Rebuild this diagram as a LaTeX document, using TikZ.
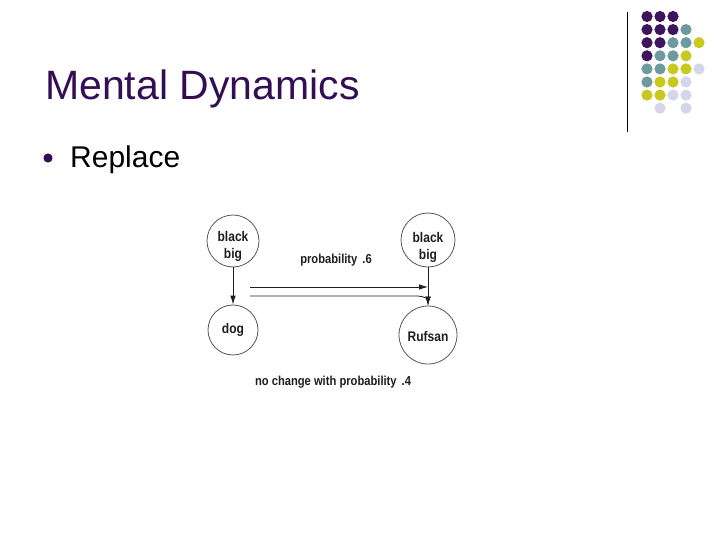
\documentclass[tikz,border=0pt]{standalone}
\usepackage{fontspec}
\setmainfont{Liberation Sans}
\newfontfamily\narrowsans[FakeStretch=0.86]{Liberation Sans}
\usetikzlibrary{arrows.meta}
\definecolor{titlepurple}{RGB}{51,14,84}
\definecolor{dotpurple}{RGB}{62,20,94}
\definecolor{dotteal}{RGB}{108,154,158}
\definecolor{dotyellow}{RGB}{200,200,30}
\definecolor{dotlav}{RGB}{214,214,234}
\definecolor{ink}{RGB}{30,30,30}

\begin{document}
\begin{tikzpicture}[
  x=1bp,y=-1bp,
  state/.style={circle,draw=ink!75,line width=.8bp,minimum size=52bp,
                inner sep=0pt,align=center,text=ink,
                font=\narrowsans\bfseries\fontsize{14bp}{17bp}\selectfont},
  flow/.style={-{Latex[length=9bp,width=5.5bp]},draw=ink,line width=.8bp},
  lbl/.style={text=ink,font=\narrowsans\bfseries\fontsize{13bp}{15bp}\selectfont}
]
\useasboundingbox (0,0) rectangle (720,540);

% Slide heading and bullet.
\node[anchor=base west,inner sep=0pt,text=titlepurple,
      font=\fontsize{41bp}{48bp}\selectfont] (title) at (45,100) {Mental Dynamics};
\fill[titlepurple] (48,158) circle (4.6);
\node[anchor=base west,inner sep=0pt,text=black,
      font=\fontsize{30bp}{34bp}\selectfont] (item) at (70,168) {Replace};

% Corner ornament.
\draw[black,line width=1bp] (627,12)--(627,132);
\foreach \cc/\rr/\clr in {0/0/dotpurple,1/0/dotpurple,2/0/dotpurple,
    0/1/dotpurple,1/1/dotpurple,2/1/dotpurple,3/1/dotteal,
    0/2/dotpurple,1/2/dotpurple,2/2/dotteal,3/2/dotteal,4/2/dotyellow,
    0/3/dotpurple,1/3/dotteal,2/3/dotteal,3/3/dotyellow,
    0/4/dotteal,1/4/dotteal,2/4/dotyellow,3/4/dotyellow,4/4/dotlav,
    0/5/dotteal,1/5/dotyellow,2/5/dotyellow,3/5/dotlav,
    0/6/dotyellow,1/6/dotyellow,2/6/dotlav,3/6/dotlav,
    1/7/dotlav,3/7/dotlav}{
  \fill[\clr] ({647+13*\cc},{16.5+13.1*\rr}) circle (5.6);
}

% States before and after the replacement.
% (the struts push the two-line labels a little below the centre)
\node[state] (srcattr) at (233,241) {\rule{0pt}{20bp}black\\big};
\node[state,minimum size=50bp] (srcobj) at (233,330) {dog};
\node[state,minimum size=54bp] (dstattr) at (428,240) {\rule{0pt}{24bp}black\\big};
\node[state,minimum size=58bp] (dstobj) at (428,335) {\rule{0pt}{14bp}Rufsan};

\draw[flow] (srcattr) -- (srcobj);
\draw[flow] (dstattr) -- (dstobj);

% Transitions.
\coordinate (upper) at (250,287);
\coordinate (lower) at (250,296);
\draw[flow] (upper) -- (upper -| dstobj.north);
\draw[flow] (lower) -- ([xshift=-10bp]lower -| dstobj.north)
  to[out=0,in=90] (dstobj.north);

\node[lbl] (probtext) at (336,260) {probability\hspace{5bp}.6};
\node[lbl] (keeptext) at (333,382) {no change with probability\hspace{5bp}.4};

\end{tikzpicture}
\end{document}
